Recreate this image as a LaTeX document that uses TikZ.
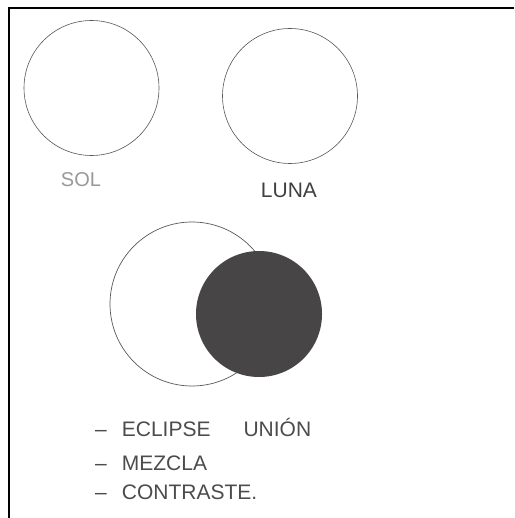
\documentclass[tikz,border=0pt]{standalone}
\usepackage{fontspec}
\setmainfont{Liberation Sans}
\usetikzlibrary{positioning}
\definecolor{moon}{HTML}{474545}

\begin{document}
\begin{tikzpicture}[x=1pt,y=-1pt,
    ring/.style={gray!70!black,line width=0.6pt},
    listitem/.style={font=\fontsize{21}{24}\selectfont,text=black!70,anchor=west,inner sep=0pt}]
  \useasboundingbox (0,0) rectangle (514,518);
  \fill[white] (0,0) rectangle (514,518);
  \draw[line width=2pt] (9,518) -- (9,8) -- (514,8);
  \draw[ring] (91.5,88) circle (67.5);
  \node[font=\fontsize{20}{24}\selectfont,text=gray!80] (sol) at (81,180) {SOL};
  \draw[ring] (290,96) circle (67.5);
  \node[font=\fontsize{21}{24}\selectfont,text=black!75] (luna) at (289,190) {LUNA};
  \draw[ring,line width=0.7pt,fill=white] (192,304) circle (82);
  \fill[moon] (259,314) circle (63);
  \node[listitem] (eclipse) at (95,427) {--\hspace{15pt}ECLIPSE\hspace{33pt}UNIÓN};
  \node[listitem] (mezcla) at (95,463) {--\hspace{15pt}MEZCLA};
  \node[listitem] (contraste) at (95,492) {--\hspace{15pt}CONTRASTE.};
\end{tikzpicture}
\end{document}
